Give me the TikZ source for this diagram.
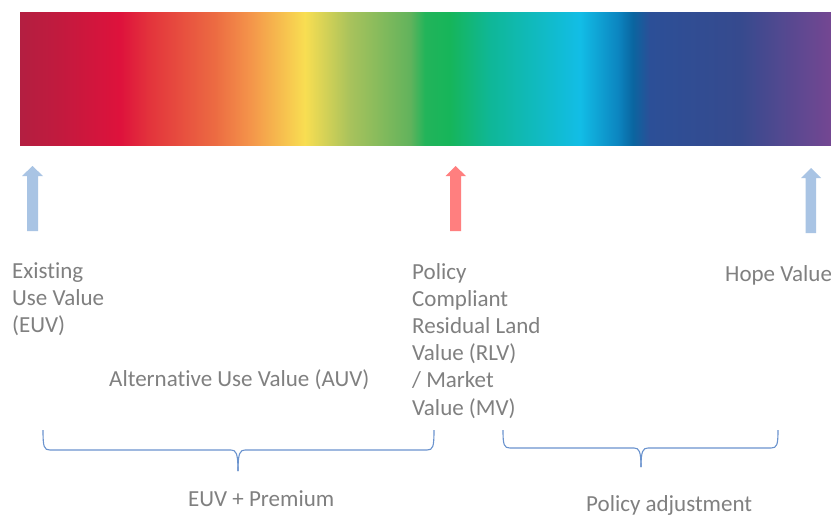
\documentclass[tikz,border=0pt]{standalone}
\usepackage{fontspec}
\setmainfont{Carlito}[Ligatures={NoCommon}]
\definecolor{txt}{HTML}{808080}
\definecolor{arrblue}{HTML}{A9C4E4}
\definecolor{arrred}{HTML}{FF7F7F}
\definecolor{brace}{HTML}{6A93CE}
\pgfdeclarehorizontalshading{rainbow}{100bp}{%
color(0bp)=(rgb,255:red,179;green,31;blue,65);
color(25bp)=(rgb,255:red,179;green,31;blue,65);
color(27.47bp)=(rgb,255:red,194;green,26;blue,62);
color(31.17bp)=(rgb,255:red,222;green,18;blue,60);
color(33.01bp)=(rgb,255:red,227;green,52;blue,60);
color(37.02bp)=(rgb,255:red,236;green,107;blue,66);
color(39.18bp)=(rgb,255:red,244;green,148;blue,74);
color(42.57bp)=(rgb,255:red,248;green,222;blue,82);
color(45.35bp)=(rgb,255:red,168;green,194;blue,92);
color(49.04bp)=(rgb,255:red,98;green,179;blue,92);
color(49.97bp)=(rgb,255:red,34;green,180;blue,90);
color(51.51bp)=(rgb,255:red,22;green,181;blue,90);
color(53.98bp)=(rgb,255:red,15;green,183;blue,151);
color(59.53bp)=(rgb,255:red,18;green,189;blue,230);
color(61.87bp)=(rgb,255:red,12;green,133;blue,192);
color(62.79bp)=(rgb,255:red,10;green,101;blue,160);
color(63.84bp)=(rgb,255:red,44;green,79;blue,151);
color(69.39bp)=(rgb,255:red,54;green,74;blue,142);
color(75bp)=(rgb,255:red,116;green,71;blue,146);
color(100bp)=(rgb,255:red,116;green,71;blue,146)}
\tikzset{
  lbl/.style={text=txt, font=\fontsize{23}{27.2}\selectfont, inner sep=0pt, align=left},
  bracepath/.style={draw=brace, line width=1.1pt},
}
\begin{document}
\begin{tikzpicture}[x=1pt,y=-1pt]
\useasboundingbox (0,0) rectangle (831,515);
\fill[white] (0,0) rectangle (831,515);
\shade[shading=rainbow] (20,12) rectangle (831,145);
% block arrows
\fill[arrblue] (27,231) -- (27,176) -- (22,176) -- (32.5,166) -- (43,176) -- (38,176) -- (38,231) -- cycle;
\fill[arrred] (450,231) -- (450,176) -- (445.5,176) -- (455.5,166) -- (466,176) -- (461,176) -- (461,231) -- cycle;
\fill[arrblue] (805.5,233) -- (805.5,178) -- (801,178) -- (811,168) -- (821,178) -- (816,178) -- (816,233) -- cycle;
% labels (base anchor = last line's baseline)
\node[lbl, anchor=base west] (euv) at (12,332.4) {Existing\\Use Value\\(EUV)};
\node[lbl, anchor=base west] (rlv) at (412,415) {Policy\\Compliant\\Residual Land\\Value (RLV)\\/ Market\\Value (MV)};
\node[lbl, anchor=base west] (hope) at (725,281) {Hope Value};
\node[lbl, anchor=base west] (auv) at (109,386) {Alternative Use Value (AUV)};
\node[lbl, anchor=base west] (prem) at (188,506) {EUV + Premium};
\node[lbl, anchor=base west] (padj) at (586,511.5) {Policy adjustment};
% braces
\draw[bracepath] (43,430) .. controls (43,447) and (44,450) .. (50,450) -- (231,450) .. controls (236,450) and (238,453) .. (238,471);
\draw[bracepath] (434,430) .. controls (434,447) and (433,450) .. (427,450) -- (245,450) .. controls (240,450) and (238,453) .. (238,471);
\draw[bracepath] (503,430) .. controls (503,445) and (504,448) .. (510,448) -- (634,448) .. controls (639,448) and (641,451) .. (641,467);
\draw[bracepath] (778,430) .. controls (778,445) and (777,448) .. (771,448) -- (648,448) .. controls (643,448) and (641,451) .. (641,467);
\end{tikzpicture}
\end{document}
